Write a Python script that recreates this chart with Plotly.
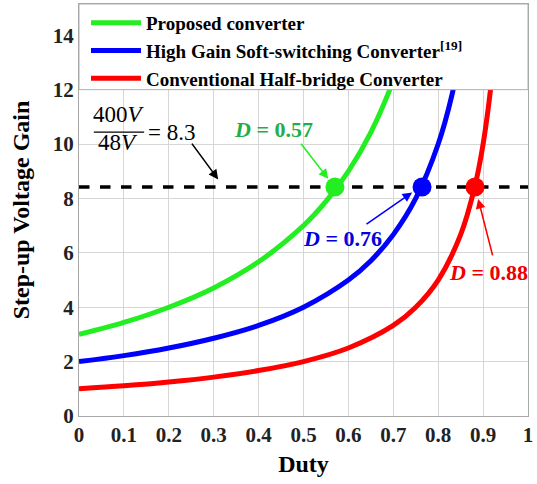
import plotly.graph_objects as go

# ---- data ----
duty_green = [0.0, 0.1, 0.2, 0.3, 0.4, 0.5, 0.55, 0.6, 0.65, 0.7, 0.73]
gain_green = [3.0, 3.44, 4.0, 4.71, 5.67, 7.0, 7.89, 9.0, 10.43, 12.33, 13.8]

duty_blue = [0.0, 0.1, 0.2, 0.3, 0.4, 0.5, 0.6, 0.65, 0.7, 0.75, 0.8, 0.83, 0.86]
gain_blue = [2.0, 2.22, 2.5, 2.86, 3.33, 4.0, 5.0, 5.71, 6.67, 8.0, 10.0, 11.76, 14.3]

duty_red = [0.0, 0.1, 0.2, 0.3, 0.4, 0.5, 0.6, 0.7, 0.75, 0.8, 0.85, 0.88, 0.9, 0.92, 0.93]
gain_red = [1.0, 1.11, 1.25, 1.43, 1.67, 2.0, 2.5, 3.33, 4.0, 5.0, 6.67, 8.33, 10.0, 12.5, 14.3]

target_gain = 8.42
cross_duty = [0.57, 0.764, 0.882]
cross_labels = ["0.57", "0.76", "0.88"]

names = ["Proposed converter",
         "High Gain Soft-switching Converter<sup>[19]</sup>",
         "Conventional Half-bridge Converter"]
line_colors = ["#22ee22", "#0000ff", "#ff0000"]
text_colors = ["#1fae4a", "#0000dd", "#ee0000"]

x_ticks = [0, 0.1, 0.2, 0.3, 0.4, 0.5, 0.6, 0.7, 0.8, 0.9, 1]
x_ticklabels = ["0", "0.1", "0.2", "0.3", "0.4", "0.5", "0.6", "0.7", "0.8", "0.9", "1"]
y_ticks = [0, 2, 4, 6, 8, 10, 12, 14]

FONT = "Liberation Serif"

fig = go.Figure()

curves = [(duty_green, gain_green), (duty_blue, gain_blue), (duty_red, gain_red)]
for i, (dx, gy) in enumerate(curves):
    fig.add_trace(go.Scatter(
        x=dx, y=gy, mode="lines", name=names[i],
        line=dict(color=line_colors[i], width=5, shape="spline", smoothing=1.0),
        legendgroup=f"g{i}", showlegend=True))

# dashed target line
fig.add_trace(go.Scatter(x=[0, 1], y=[target_gain, target_gain], mode="lines",
                         line=dict(color="black", width=3.5, dash="dash"),
                         showlegend=False))

# crossing markers
for i, d in enumerate(cross_duty):
    fig.add_trace(go.Scatter(x=[d], y=[target_gain], mode="markers",
                             marker=dict(color=line_colors[i], size=19),
                             showlegend=False))

annotations = []
# D = ... labels with arrows
text_pos = [(0.434, 10.55), (0.586, 6.54), (0.913, 5.26)]
arrow_tail = [(0.492, 10.07), (0.637, 7.02), (0.922, 5.85)]
arrow_head = [(0.555, 8.72), (0.742, 8.22), (0.889, 7.98)]
for i in range(3):
    annotations.append(dict(
        x=text_pos[i][0], y=text_pos[i][1], xref="x", yref="y",
        text=f"<b><i>D</i> = {cross_labels[i]}</b>", showarrow=False,
        font=dict(family=FONT, size=22, color=text_colors[i])))
    annotations.append(dict(
        x=arrow_head[i][0], y=arrow_head[i][1], ax=arrow_tail[i][0], ay=arrow_tail[i][1],
        xref="x", yref="y", axref="x", ayref="y", text="", showarrow=True,
        arrowhead=2, arrowsize=1.2, arrowwidth=1.6, arrowcolor=line_colors[i]))

# fraction 400V/48V = 8.3
annotations.append(dict(x=0.089, y=11.07, xref="x", yref="y", text="400<i>V</i>",
                        showarrow=False, font=dict(family=FONT, size=23, color="black")))
annotations.append(dict(x=0.086, y=10.04, xref="x", yref="y", text="48<i>V</i>",
                        showarrow=False, font=dict(family=FONT, size=23, color="black")))
annotations.append(dict(x=0.149, y=10.44, xref="x", yref="y", text="= 8.3",
                        xanchor="left", showarrow=False,
                        font=dict(family=FONT, size=23, color="black")))
annotations.append(dict(x=0.31, y=8.7, ax=0.249, ay=10.07, xref="x", yref="y",
                        axref="x", ayref="y", text="", showarrow=True,
                        arrowhead=2, arrowsize=1.2, arrowwidth=1.6, arrowcolor="black"))

shapes = [
    # fraction bar
    dict(type="line", xref="x", yref="y", x0=0.033, x1=0.145, y0=10.44, y1=10.44,
         line=dict(color="black", width=1.2)),
    # legend background box
    dict(type="rect", xref="x", yref="y", x0=0, x1=1, y0=12, y1=15.15,
         fillcolor="white", line=dict(color="#b0b0b0", width=1), layer="above"),
]

fig.update_layout(
    width=537, height=484,
    margin=dict(l=79, r=9, t=4, b=68),
    paper_bgcolor="white", plot_bgcolor="white",
    font=dict(family=FONT, color="black"),
    annotations=annotations, shapes=shapes,
    legend=dict(x=0.0156, y=1.0, xanchor="left", yanchor="top",
                bgcolor="rgba(0,0,0,0)", borderwidth=0,
                font=dict(family=FONT, size=19, color="black", weight="bold"),
                traceorder="grouped", tracegroupgap=0, itemwidth=50),
    xaxis=dict(range=[0, 1], tickvals=x_ticks, ticktext=x_ticklabels,
               showgrid=True, gridcolor="#d6d6d6", gridwidth=1,
               showline=True, linecolor="#a8a8a8", mirror=True, zeroline=False,
               ticks="", tickfont=dict(family=FONT, size=21, color="#222", weight="bold"),
               title=dict(text="<b>Duty</b>", font=dict(family=FONT, size=24, color="black"),
                          standoff=8)),
    yaxis=dict(range=[0, 15.15], tickvals=y_ticks,
               showgrid=True, gridcolor="#d6d6d6", gridwidth=1,
               showline=True, linecolor="#a8a8a8", mirror=True, zeroline=False,
               ticks="", tickfont=dict(family=FONT, size=21, color="#222", weight="bold"),
               title=dict(text="<b>Step-up Voltage Gain</b>",
                          font=dict(family=FONT, size=24, color="black"), standoff=16)),
)

fig.write_html("out.html")
